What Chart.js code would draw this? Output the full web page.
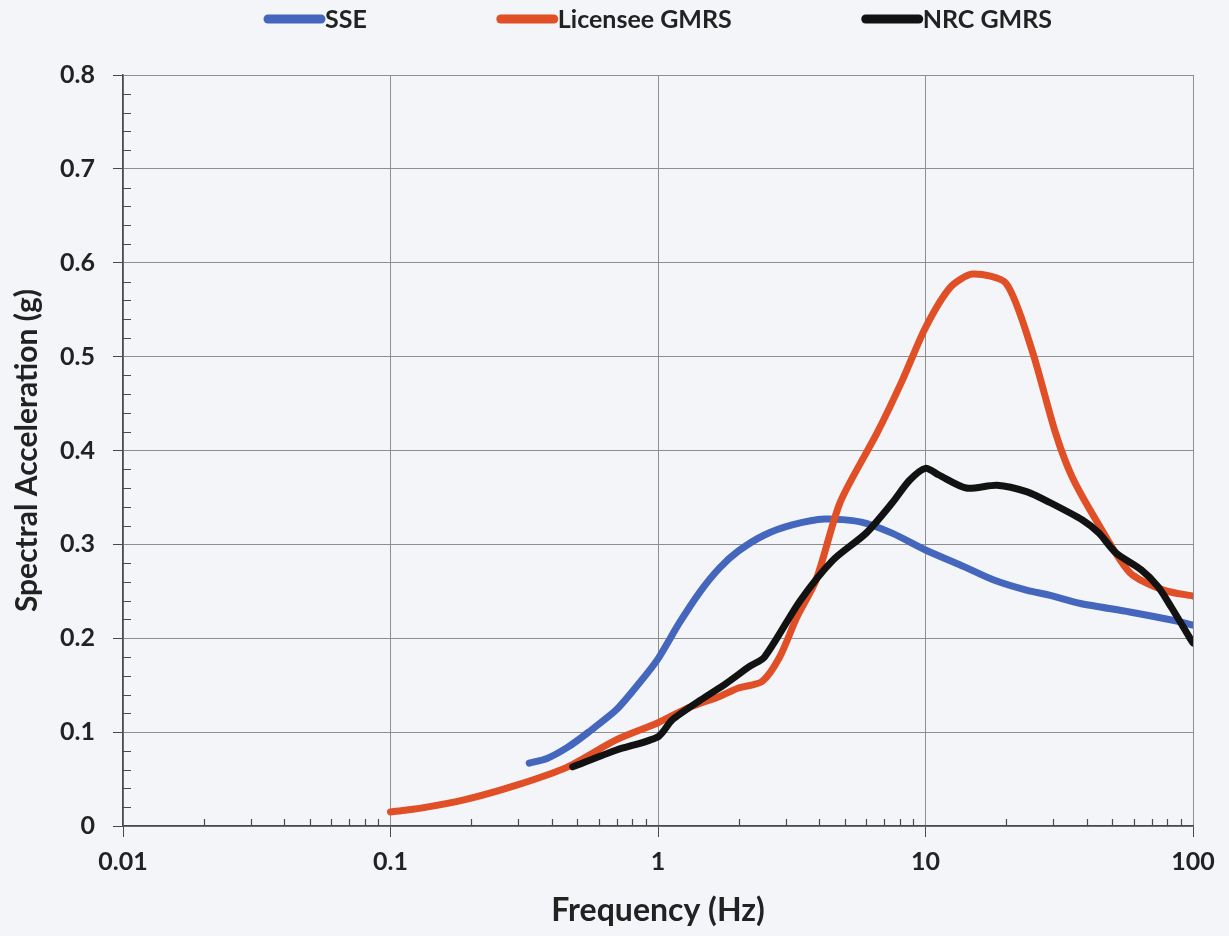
<!DOCTYPE html>
<html>
<head>
<meta charset="utf-8">
<script src="https://cdn.jsdelivr.net/npm/chart.js@4.4.1/dist/chart.umd.min.js"></script>
<style>
html,body{margin:0;padding:0;background:#f3f5f8;}
#wrap{width:1229px;height:936px;position:relative;}
</style>
</head>
<body>
<div id="wrap"><canvas id="c"></canvas></div>
<script>
// ---- data ----
const seriesNames = ['SSE', 'Licensee GMRS', 'NRC GMRS'];
const seriesColors = ['#4467bd', '#e04f25', '#121212'];

const sseFreq = [0.33,0.385,0.46,0.55,0.7,0.85,1.0,1.2,1.44,1.7,2.0,2.5,3.2,4.2,5.7,7.5,10,14,18,24,29,38,58,88,100];
const sseAcc  = [0.067,0.072,0.084,0.100,0.124,0.152,0.178,0.216,0.250,0.275,0.293,0.310,0.321,0.327,0.324,0.312,0.294,0.276,0.262,0.251,0.246,0.237,0.228,0.218,0.214];

const licFreq = [0.1,0.13,0.19,0.3,0.46,0.7,1.0,1.3,1.7,2.0,2.45,2.85,3.3,3.9,4.8,6.6,8.2,10,12.4,15,20,25,30.6,35.3,44,58,78,100];
const licAcc  = [0.015,0.019,0.028,0.044,0.063,0.092,0.110,0.126,0.138,0.147,0.154,0.180,0.222,0.262,0.345,0.419,0.475,0.531,0.574,0.588,0.578,0.507,0.419,0.372,0.323,0.270,0.251,0.245];

const nrcFreq = [0.48,0.7,1.0,1.13,1.44,1.8,2.2,2.5,3.4,4.5,6.0,7.5,8.7,10,11.2,14.2,18.5,24,29,38.6,44.5,51.5,64,74,83,97,100];
const nrcAcc  = [0.063,0.081,0.095,0.113,0.134,0.152,0.170,0.180,0.240,0.283,0.312,0.344,0.368,0.381,0.374,0.360,0.363,0.356,0.345,0.326,0.312,0.291,0.273,0.255,0.233,0.201,0.195];

const xTickLabels = ['0.01', '0.1', '1', '10', '100'];
const yTickLabels = ['0', '0.1', '0.2', '0.3', '0.4', '0.5', '0.6', '0.7', '0.8'];

// ---- helpers ----
function pts(xs, ys) { return xs.map((x, i) => ({x: x, y: ys[i]})); }
function isDecade(v) { const l = Math.log10(v); return Math.abs(l - Math.round(l)) < 1e-6; }

const FONT = 'Lato';
const TXT = '#222222';

const bgPlugin = {
  id: 'bg',
  beforeDraw(chart) {
    const c = chart.ctx; c.save(); c.fillStyle = '#f3f5f8';
    c.fillRect(0, 0, chart.width, chart.height); c.restore();
  }
};

const minorTicks = {
  id: 'minorTicks',
  beforeDatasetsDraw(chart) {
    const {ctx, chartArea: a, scales: {x, y}} = chart;
    ctx.save(); ctx.strokeStyle = '#4a4a4a'; ctx.lineWidth = 1.2; ctx.beginPath();
    for (let e = -2; e < 2; e++) {
      for (let k = 2; k < 10; k++) {
        const px = Math.round(x.getPixelForValue(k * Math.pow(10, e))) + 0.5;
        ctx.moveTo(px, a.bottom); ctx.lineTo(px, a.bottom - 7);
      }
    }
    for (let i = 1; i < 40; i++) {
      if (i % 5 === 0) continue;
      const py = Math.round(y.getPixelForValue(i * 0.02)) + 0.5;
      ctx.moveTo(a.left, py); ctx.lineTo(a.left + 8, py);
    }
    ctx.stroke(); ctx.restore();
  }
};

const topLegend = {
  id: 'topLegend',
  afterDraw(chart) {
    const ctx = chart.ctx, a = chart.chartArea;
    ctx.save();
    ctx.font = 'bold 25px ' + FONT;
    const lineW = 60, gap = 130, cy = 19;
    const ds = chart.data.datasets;
    const widths = ds.map(d => lineW + 1 + ctx.measureText(d.label).width);
    const total = widths.reduce((s, w) => s + w, 0) + gap * (ds.length - 1);
    let x = (a.left + a.right) / 2 - total / 2;
    ds.forEach((d, i) => {
      ctx.strokeStyle = d.borderColor; ctx.lineWidth = 9; ctx.lineCap = 'round';
      ctx.beginPath(); ctx.moveTo(x + 4, cy); ctx.lineTo(x + lineW - 3, cy); ctx.stroke();
      ctx.fillStyle = TXT; ctx.textBaseline = 'middle'; ctx.textAlign = 'left';
      ctx.fillText(d.label, x + lineW + 1, cy + 1);
      x += widths[i] + gap;
    });
    ctx.restore();
  }
};

const seriesX = [sseFreq, licFreq, nrcFreq];
const seriesY = [sseAcc, licAcc, nrcAcc];
const drawOrder = [2, 1, 0];

const datasets = seriesNames.map((name, i) => ({
  label: name,
  data: pts(seriesX[i], seriesY[i]),
  borderColor: seriesColors[i],
  backgroundColor: seriesColors[i],
  borderWidth: 7,
  pointRadius: 0,
  tension: 0.25,
  borderCapStyle: 'round',
  borderJoinStyle: 'round',
  fill: false,
  order: drawOrder[i]
}));

new Chart(document.getElementById('c'), {
  type: 'line',
  data: {datasets: datasets},
  plugins: [bgPlugin, minorTicks, topLegend],
  options: {
    responsive: true,
    maintainAspectRatio: false,
    devicePixelRatio: 1,
    animation: false,
    layout: {padding: {top: 75, right: 36, bottom: 0, left: 0}},
    plugins: {legend: {display: false}, tooltip: {enabled: false}},
    scales: {
      x: {
        type: 'logarithmic',
        position: 'bottom',
        min: 0.01, max: 100,
        afterFit(s) { s.height = 110; },
        ticks: {
          autoSkip: false, maxRotation: 0, minRotation: 0,
          color: TXT, padding: 10,
          font: {family: FONT, size: 25, weight: 'bold'},
          callback: (v) => isDecade(v) ? xTickLabels[Math.round(Math.log10(v)) + 2] : ''
        },
        grid: {
          color: (c) => (c.tick && isDecade(c.tick.value)) ? '#8e8e8e' : 'rgba(0,0,0,0)',
          tickColor: (c) => (c.tick && isDecade(c.tick.value)) ? '#4a4a4a' : 'rgba(0,0,0,0)',
          tickLength: 11, lineWidth: 1
        },
        border: {color: '#4a4a4a', width: 1.5},
        title: {
          display: true, text: 'Frequency (Hz)', color: TXT,
          font: {family: FONT, size: 32, weight: 'bold'},
          padding: {top: 0, bottom: 6}
        }
      },
      y: {
        type: 'linear',
        min: 0, max: 0.8,
        afterFit(s) { s.width = 123; },
        ticks: {
          stepSize: 0.1, color: TXT, padding: 18,
          font: {family: FONT, size: 25, weight: 'bold'},
          callback: (v) => yTickLabels[Math.round(v * 10)]
        },
        grid: {color: '#8e8e8e', tickColor: '#4a4a4a', tickLength: 10, lineWidth: 1},
        border: {color: '#4a4a4a', width: 1.5},
        title: {
          display: true, text: 'Spectral Acceleration (g)', color: TXT,
          font: {family: FONT, size: 30, weight: 'bold'},
          padding: {top: 9, bottom: 0}
        }
      }
    }
  }
});
</script>
</body>
</html>
